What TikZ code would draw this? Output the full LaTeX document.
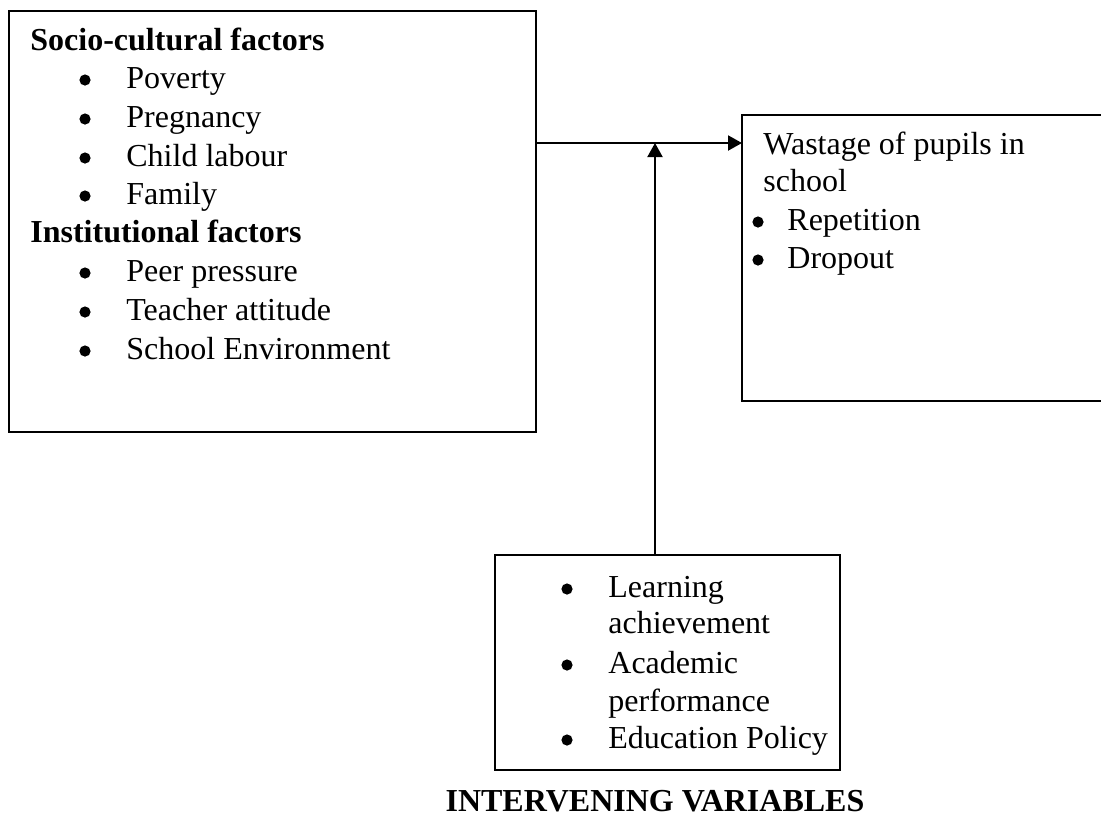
\documentclass[tikz,border=0pt]{standalone}
\usepackage{fontspec}
\setmainfont{Liberation Serif}
\usetikzlibrary{arrows.meta}
\begin{document}
\begin{tikzpicture}[x=0.5pt,y=-0.5pt,
  frame/.style={draw,line width=1pt,rectangle,inner sep=0pt,outer sep=0pt},
  txt/.style={anchor=base west,inner sep=0pt,font=\fontsize{16}{19}\selectfont},
  head/.style={anchor=base west,inner sep=0pt,font=\fontsize{16}{19}\selectfont\bfseries},
  dot/.style={circle,fill,inner sep=0pt,minimum size=5.6pt},
  link/.style={line width=1pt,-{Triangle[length=7pt,width=7.5pt]}}]
\useasboundingbox (0,0) rectangle (1101,816);

% boxes
\node[frame,minimum width=263.5pt,minimum height=210.5pt] (L) at (272.5,221.5) {};
\node[frame,minimum width=209pt,minimum height=143pt] (R) at (951,258) {};
\node[frame,minimum width=172.5pt,minimum height=107.5pt] (B) at (667.5,662.5) {};

% independent variables
\node[head] (h1) at (30,50) {Socio-cultural factors};
\node[dot] (d1) at (85,80) {}; \node[txt] (t1) at (126,88) {Poverty};
\node[dot] (d2) at (85,119) {}; \node[txt] (t2) at (126,127) {Pregnancy};
\node[dot] (d3) at (85,158) {}; \node[txt] (t3) at (126,166) {Child labour};
\node[dot] (d4) at (85,196) {}; \node[txt] (t4) at (126,204) {Family};
\node[head] (h2) at (30,242) {Institutional factors};
\node[dot] (d5) at (85,273) {}; \node[txt] (t5) at (126,281) {Peer pressure};
\node[dot] (d6) at (85,312) {}; \node[txt] (t6) at (126,320) {Teacher attitude};
\node[dot] (d7) at (85,351) {}; \node[txt] (t7) at (126,359) {School Environment};

% dependent variables
\node[txt] (w1) at (763,154) {Wastage of pupils in};
\node[txt] (w2) at (763,191) {school};
\node[dot] (e1) at (758,222) {}; \node[txt] (w3) at (787,230) {Repetition};
\node[dot] (e2) at (758,260) {}; \node[txt] (w4) at (787,268) {Dropout};

% intervening variables
\node[dot] (f1) at (567,589) {}; \node[txt] (v1) at (608,597) {Learning};
\node[txt] (v2) at (608,633) {achievement};
\node[dot] (f2) at (567,665) {}; \node[txt] (v3) at (608,673) {Academic};
\node[txt] (v4) at (608,711) {performance};
\node[dot] (f3) at (567,740) {}; \node[txt] (v5) at (608,748) {Education Policy};
\node[anchor=base,inner sep=0pt,font=\fontsize{16}{19}\selectfont\bfseries] (cap) at (655,811) {INTERVENING VARIABLES};

% connectors
\coordinate (hj) at (655,143);
\draw[link] (L.east |- hj) -- (R.west |- hj);
\draw[link] (hj |- B.north) -- (hj);
\end{tikzpicture}
\end{document}
